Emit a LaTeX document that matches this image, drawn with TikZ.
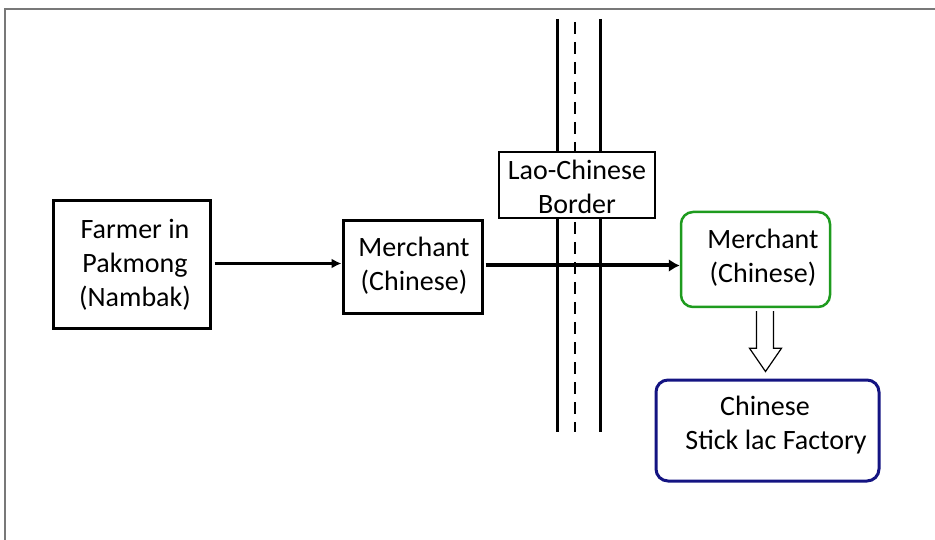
\documentclass[tikz,border=0pt]{standalone}
\usepackage{fontspec}
\setmainfont{Carlito}
\usetikzlibrary{arrows.meta,calc}
\definecolor{framegray}{RGB}{120,120,120}
\definecolor{boxgreen}{RGB}{30,155,30}
\definecolor{boxnavy}{RGB}{20,20,130}
\tikzset{
  txt/.style={font=\fontsize{28}{34}\selectfont, align=center, text=black},
  rbox/.style={line width=2.5pt, rounded corners=12pt},
  road/.style={line width=3pt},
  flow/.style={line width=2.5pt, -{Latex[length=10pt,width=10pt]}},
  bigflow/.style={line width=4pt, -{Latex[length=11pt,width=13pt]}},
}
\begin{document}
\begin{tikzpicture}[x=1pt,y=-1pt]
\useasboundingbox (0,0) rectangle (935,540);
% frame
\draw[framegray, line width=1.2pt] (5,540) -- (5,9) -- (935,9);
% road
\draw[road] (557,19) -- (557,432);
\draw[road] (600,19) -- (600,432);
\draw[line width=1.3pt, dash pattern=on 12pt off 8pt] (575,22) -- (575,432);
% nodes
\node[draw=black, line width=3pt, minimum width=157pt, minimum height=127pt] (farmer) at (131.5,264.5) {};
\node[txt] (farmertxt) at (135,265) {Farmer in\\Pakmong\\(Nambak)};
\node[draw=black, line width=3pt, minimum width=139pt, minimum height=93pt] (m1) at (412.5,267.5) {};
\node[txt] (m1txt) at (414,266) {Merchant\\(Chinese)};
\node[draw=black, fill=white, line width=1.3pt, minimum width=156pt, minimum height=66pt] (border) at (577,185) {};
\node[txt] (bordertxt) at (577,187) {Lao-Chinese\\Border};
\node[draw=boxgreen, rbox, minimum width=149pt, minimum height=95pt] (m2) at (755.5,259.5) {};
\node[txt] (m2txt) at (763,257.5) {Merchant\\(Chinese)};
\node[draw=boxnavy, rbox, line width=3pt, minimum width=223pt, minimum height=101pt] (fac) at (767.5,430.5) {};
\node[txt] (factxt) at (776,425.5) {\hspace*{-22pt}Chinese\\Stick lac Factory};
% connectors
\draw[flow] (farmer.east) ++(3,-1) coordinate (a1) -- (a1 -| m1.west);
\draw[bigflow] ($(m1.east)+(2,-2)$) coordinate (a2) -- (a2 -| m2.west);
\draw[line width=1.2pt, fill=white]
  ($(m2.south)+(1,3)$) -- ++(0,37) -- ++(-7,0) -- ($(fac.north)+(-2,-7)$) -- ($(m2.south)+(26,40)$) -- ++(-8,0) -- ++(0,-37);
\end{tikzpicture}
\end{document}
